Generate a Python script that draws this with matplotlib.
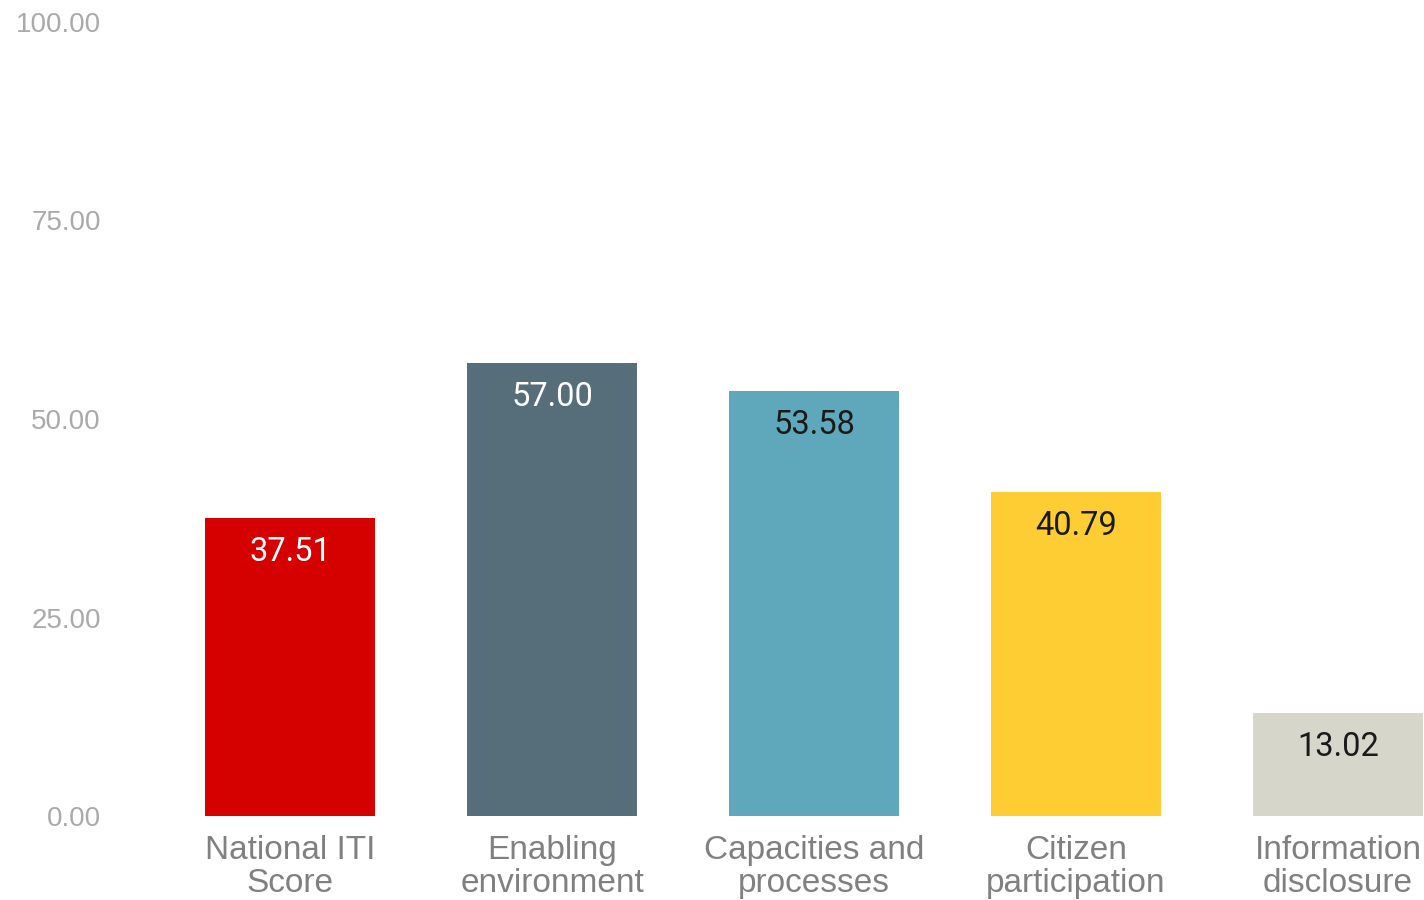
import matplotlib
matplotlib.use('Agg')
import matplotlib.pyplot as plt

categories = ['National ITI\nScore', 'Enabling\nenvironment', 'Capacities and\nprocesses',
              'Citizen\nparticipation', 'Information\ndisclosure']
values = [37.51, 57.00, 53.58, 40.79, 13.02]
colors = ['#D50000', '#566E7A', '#5FA8BC', '#FDCD33', '#D6D6CB']
label_colors = ['white', 'white', '#1a1a1a', '#1a1a1a', '#1a1a1a']
yticks = [0, 25, 50, 75, 100]

fig = plt.figure(figsize=(14.24, 9), dpi=100)
ax = fig.add_axes([159 / 1424, 84 / 900, 1265 / 1424, 794 / 900])

x = list(range(len(values)))
bars = ax.bar(x, values, width=0.649, color=colors)

# value labels inside bar tops
for b, v, c in zip(bars, values, label_colors):
    ax.annotate(f'{v:.2f}', (b.get_x() + b.get_width() / 2, v), xytext=(0, -24.5),
                textcoords='offset points', ha='center', va='center',
                fontsize=23.5, color=c, family='Roboto')

ax.set_xlim(-0.5, -0.5 + 1265 / 262)
ax.set_ylim(0, 100)
ax.set_yticks(yticks)
ax.set_yticklabels([f'{t:.2f}' for t in yticks], family='Liberation Sans',
                   fontsize=20, color='#aaaaaa')
ax.set_xticks(x)
ax.set_xticklabels(categories, family='Liberation Sans', fontsize=24,
                   color='#808080', linespacing=1.08)
ax.tick_params(axis='y', length=0, pad=42)
ax.tick_params(axis='x', length=0, pad=14)
for s in ax.spines.values():
    s.set_visible(False)

fig.savefig('out.png', dpi=100)
